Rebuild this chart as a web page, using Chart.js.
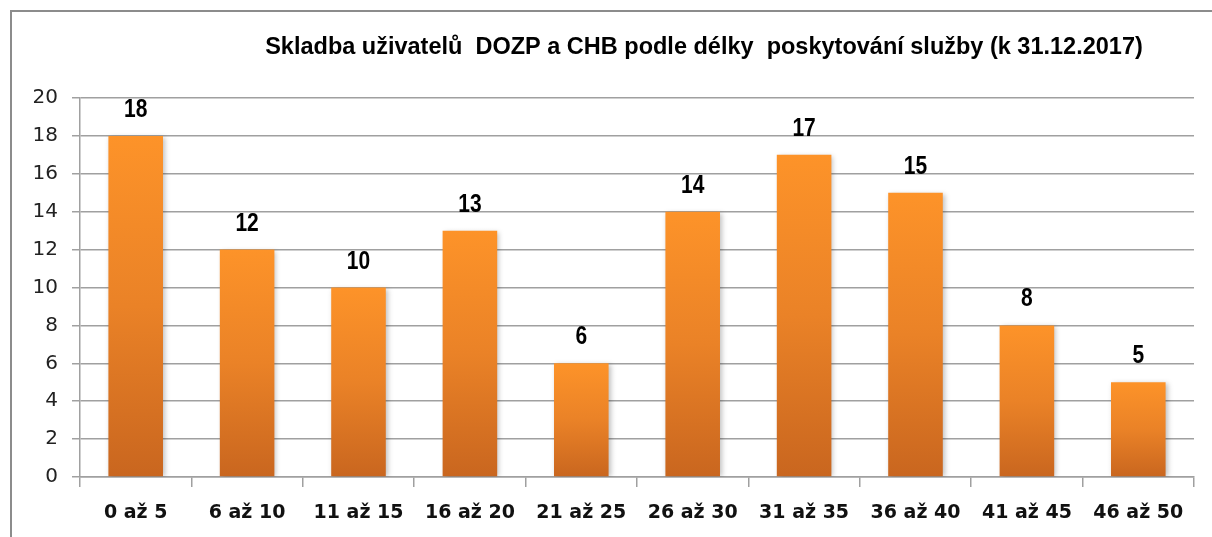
<!DOCTYPE html>
<html>
<head>
<meta charset="utf-8">
<script src="https://cdn.jsdelivr.net/npm/chart.js@4.4.0/dist/chart.umd.min.js"></script>
<style>
    html, body { margin: 0; padding: 0; background: #fff; }
    #wrap { width: 1212px; height: 537px; }
</style>
</head>
<body>
<div id="wrap"><canvas id="chart"></canvas></div>
<script>
const title = "Skladba uživatelů  DOZP a CHB podle délky  poskytování služby (k 31.12.2017)";
const categories = ["0 až 5", "6 až 10", "11 až 15", "16 až 20", "21 až 25", "26 až 30", "31 až 35", "36 až 40", "41 až 45", "46 až 50"];
const values = [18, 12, 10, 13, 6, 14, 17, 15, 8, 5];
const yTicks = [0, 2, 4, 6, 8, 10, 12, 14, 16, 18, 20];

const AXIS_FONT = "'DejaVu Sans', Verdana, sans-serif";
const LABEL_FONT = "'Liberation Sans', Arial, sans-serif";

// gradient per bar, lighter on top
function barGradient(ctx) {
    const chart = ctx.chart;
    if (!chart.chartArea || ctx.type !== "data") return "#f08a2c";
    const y = chart.scales.y;
    const top = y.getPixelForValue(values[ctx.dataIndex]);
    const base = y.getPixelForValue(0);
    const g = chart.ctx.createLinearGradient(0, top, 0, base);
    g.addColorStop(0, "#fd9329");
    g.addColorStop(0.5, "#ea8227");
    g.addColorStop(1, "#c9661f");
    return g;
}

const framePlugin = {
    id: "frame",
    beforeDraw(chart) {
        const c = chart.ctx;
        c.save();
        c.fillStyle = "#fff";
        c.fillRect(0, 0, chart.width, chart.height);
        c.strokeStyle = "#8c8c8c";
        c.lineWidth = 2;
        c.strokeRect(11, 11, chart.width + 20, chart.height + 20);
        c.restore();
    },
    afterDraw(chart) {
        const c = chart.ctx;
        c.save();
        c.fillStyle = "#000";
        c.font = "bold 23.5px 'Liberation Sans', Arial, sans-serif";
        c.textAlign = "center";
        c.textBaseline = "middle";
        c.fillText(title, 704, 48);
        c.restore();
    }
};

const shadowPlugin = {
    id: "barShadow",
    beforeDatasetsDraw(chart) {
        const c = chart.ctx;
        c.save();
        c.shadowColor = "rgba(0,0,0,0.25)";
        c.shadowBlur = 5;
        c.shadowOffsetX = 2;
        c.shadowOffsetY = 1;
    },
    afterDatasetsDraw(chart) {
        chart.ctx.restore();
    }
};

// value above each bar, squeezed like Arial Narrow
const valueLabels = {
    id: "valueLabels",
    afterDatasetsDraw(chart) {
        const c = chart.ctx;
        const meta = chart.getDatasetMeta(0);
        c.save();
        c.fillStyle = "#000";
        c.font = "bold 25px " + LABEL_FONT;
        c.textAlign = "center";
        c.textBaseline = "alphabetic";
        meta.data.forEach(function (bar, i) {
            c.save();
            c.translate(bar.x, bar.y - 19);
            c.scale(0.84, 1);
            c.fillText(String(values[i]), 0, 0);
            c.restore();
        });
        c.restore();
    }
};

new Chart(document.getElementById("chart"), {
    type: "bar",
    data: {
        labels: categories,
        datasets: [{
            data: values,
            backgroundColor: barGradient,
            borderWidth: 0,
            barPercentage: 0.49,
            categoryPercentage: 1
        }]
    },
    plugins: [framePlugin, shadowPlugin, valueLabels],
    options: {
        responsive: true,
        maintainAspectRatio: false,
        animation: false,
        layout: { padding: { top: 98, right: 18, left: 0, bottom: 0 } },
        plugins: {
            legend: { display: false },
            title: { display: false },
            tooltip: { enabled: false }
        },
        scales: {
            x: {
                offset: true,
                grid: {
                    offset: true,
                    drawOnChartArea: false,
                    drawTicks: true,
                    tickLength: 10,
                    color: "#a0a0a0",
                    lineWidth: 1.5
                },
                border: { color: "#a0a0a0", width: 1.5 },
                ticks: {
                    color: "#111",
                    padding: 15,
                    font: { family: AXIS_FONT, size: 19, weight: "bold" }
                },
                afterFit(scale) { scale.height = 60; }
            },
            y: {
                min: 0,
                max: 20,
                afterBuildTicks(scale) {
                    scale.ticks = yTicks.map(function (v) { return { value: v }; });
                },
                grid: {
                    color: "#a0a0a0",
                    lineWidth: 1.5,
                    tickLength: 8
                },
                border: { color: "#a0a0a0", width: 1.5 },
                ticks: {
                    color: "#222",
                    padding: 14,
                    font: { family: AXIS_FONT, size: 20 }
                },
                afterFit(scale) { scale.width = 80; }
            }
        }
    }
});
</script>
</body>
</html>
